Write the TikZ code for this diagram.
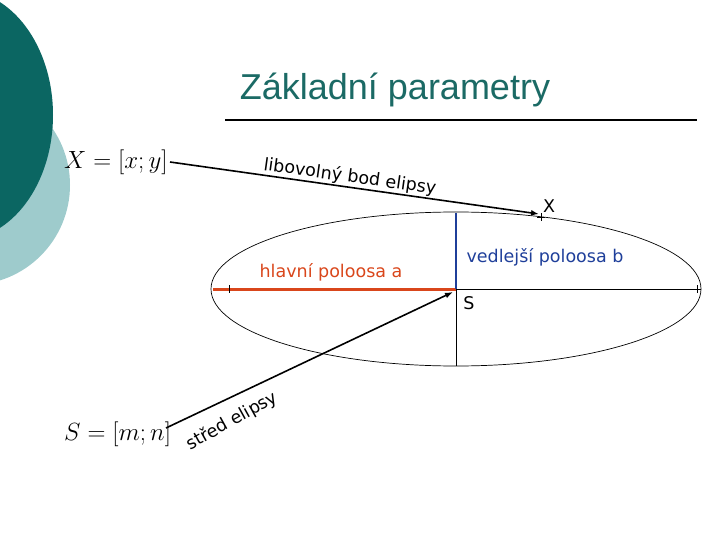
\documentclass[tikz,border=0pt]{standalone}
\usepackage{fontspec}
\setmainfont{Liberation Serif}
\setsansfont{DejaVu Sans}
\newfontfamily\arialf{Liberation Sans}
\usetikzlibrary{arrows.meta}
\definecolor{darkteal}{HTML}{0B6662}
\definecolor{lightteal}{HTML}{9ECBCC}
\definecolor{titlec}{HTML}{1B6A65}
\definecolor{orng}{HTML}{D9461B}
\definecolor{blu}{HTML}{1F3F9A}
\tikzset{lbl/.style={font=\sffamily\fontsize{17.5}{20}\selectfont, inner sep=0pt},
 arr/.style={-{Latex[length=8pt,width=6pt]}, line width=1.6pt},
 thin/.style={line width=0.7pt}}
\begin{document}
\begin{tikzpicture}[x=1pt,y=-1pt]
\useasboundingbox (0,0) rectangle (720,540);
\fill[lightteal] (-30,185) circle (100);
\fill[darkteal] (-40,115) ellipse [x radius=93, y radius=125];
\node[font=\arialf\fontsize{36}{40}\selectfont, text=titlec] (title) at (395,90) {Základní parametry};
\draw[line width=1.8pt] (225,120) -- (697,120);
% ellipse
\draw[thin] (456,289) ellipse [x radius=245, y radius=77];
\coordinate (S) at (456,289);
\coordinate (L) at (213,289);
\coordinate (R) at (701,289);
\coordinate (T) at (456,213);
\coordinate (B) at (456,366);
\draw[thin] (S) -- (R);
\draw[thin] (S) -- (B);
\draw[line width=3pt, orng] (L) -- (S);
\draw[line width=2.5pt, blu] (S) -- (T);
\draw[thin] (229,285) -- (229,293);
\draw[thin] (697,285) -- (697,293);
\draw[thin] (537,217) -- (545,217) (541,213) -- (541,221);
\node[font=\fontsize{25}{28}\selectfont, anchor=west, inner sep=0pt] (Xeq) at (64,162) {$X=\biggl[x;y\biggr]$};
\node[font=\fontsize{25}{28}\selectfont, anchor=west, inner sep=0pt] (Seq) at (64,434) {$S=\biggl[m;n\biggr]$};
\draw[arr] (170,162) -- (539,214);
\draw[arr] (166,428) -- (453,292);
\node[lbl, rotate=-8] (lib) at (350,177) {libovolný bod elipsy};
\node[lbl, rotate=29] (str) at (232,421) {střed elipsy};
\node[lbl, text=orng] (ha) at (331,272) {hlavní poloosa a};
\node[lbl, text=blu] (vb) at (545,257) {vedlejší poloosa b};
\node[lbl] (Sl) at (469,303) {S};
\node[lbl] (Xl) at (549,206) {X};
\end{tikzpicture}
\end{document}
